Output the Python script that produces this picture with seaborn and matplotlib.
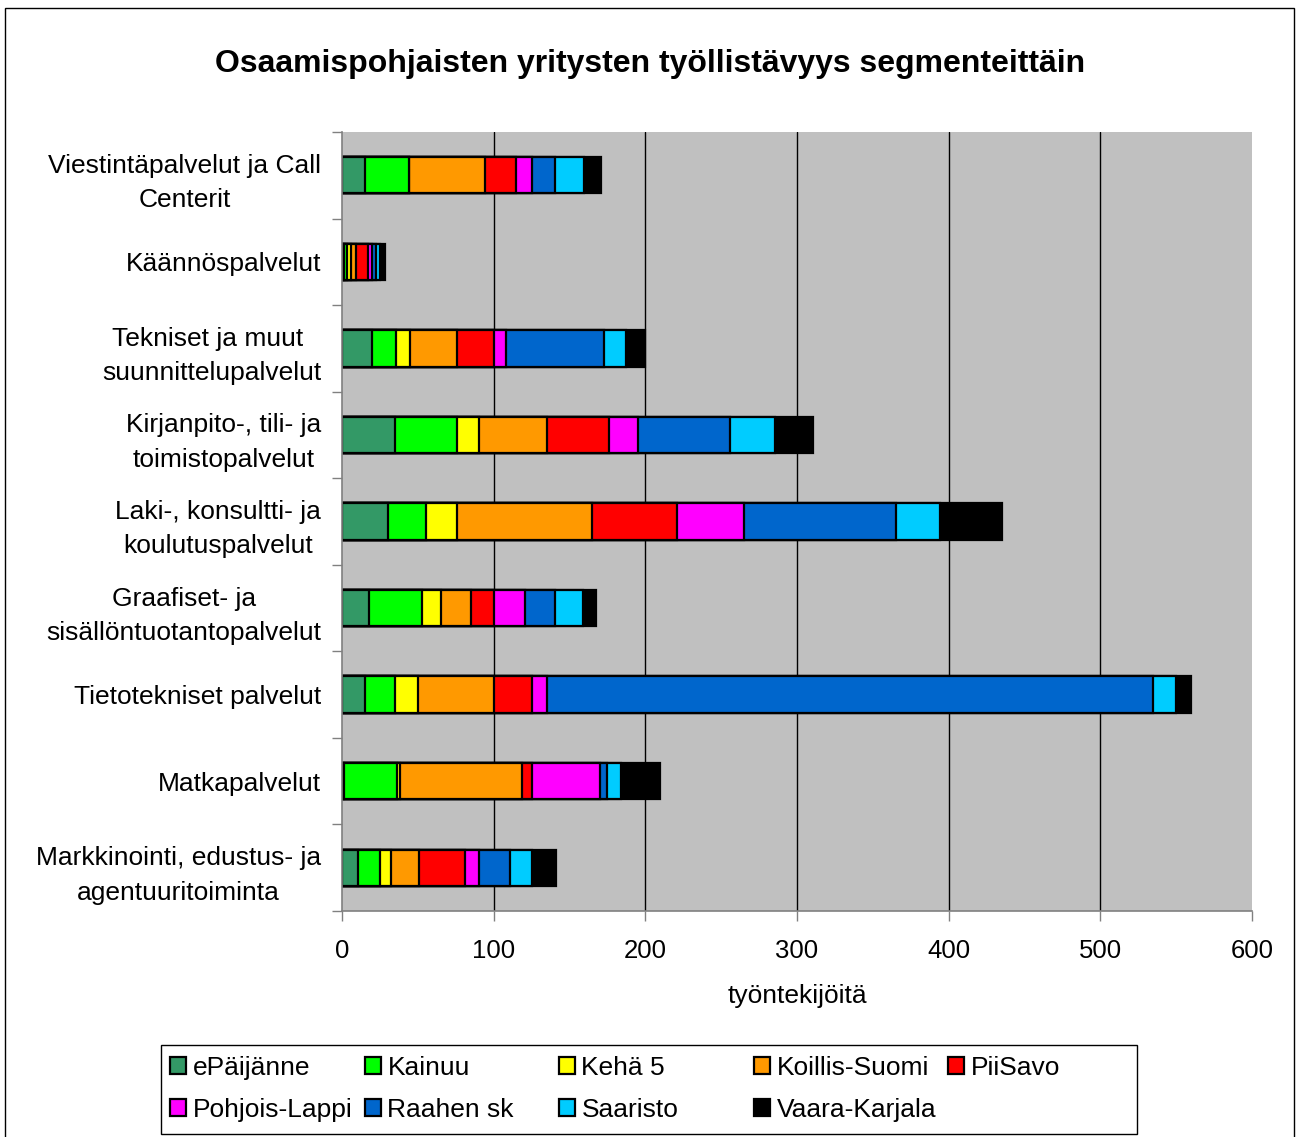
"""Osaamispohjaisten yritysten työllistävyys segmenteittäin — stacked horizontal bars."""

import matplotlib

matplotlib.use("Agg")
import matplotlib.pyplot as plt
import numpy as np
import pandas as pd
import seaborn as sns
from matplotlib.patches import Rectangle

CATEGORIES = [
    "Viestintäpalvelut ja Call\nCenterit",
    "Käännöspalvelut",
    "Tekniset ja muut \nsuunnittelupalvelut",
    "Kirjanpito-, tili- ja\ntoimistopalvelut",
    "Laki-, konsultti- ja\nkoulutuspalvelut",
    "Graafiset- ja\nsisällöntuotantopalvelut",
    "Tietotekniset palvelut",
    "Matkapalvelut",
    "Markkinointi, edustus- ja\nagentuuritoiminta",
]
REGIONS = [
    "ePäijänne", "Kainuu", "Kehä 5", "Koillis-Suomi", "PiiSavo",
    "Pohjois-Lappi", "Raahen sk", "Saaristo", "Vaara-Karjala",
]
# employees per region, same order as CATEGORIES
EPAIJANNE = [15, 1, 20, 35, 30, 18, 15, 1, 10.5]
KAINUU = [29, 2.5, 15.5, 40.5, 25.5, 35, 20, 35, 14.5]
KEHA5 = [0, 2.5, 9, 15, 20.5, 12, 15, 2.5, 7]
KOILLIS = [50, 3, 31, 44.5, 89, 20, 50, 80, 19]
PIISAVO = [20.5, 8, 24.5, 41, 56, 15, 25.5, 6.5, 30]
POHJOIS_LAPPI = [11, 3, 8, 19, 44, 20.5, 9.5, 45, 9.5]
RAAHE = [15, 2.5, 65, 61, 100, 20, 400, 5, 20]
SAARISTO = [19, 2.5, 14, 29.5, 29.5, 18.5, 15, 9, 14.5]
VAARA = [11.5, 3.5, 13, 25, 41, 8.5, 9.5, 25.5, 16]

COLORS = [
    "#339966", "#00FF00", "#FFFF00", "#FF9900", "#FF0000",
    "#FF00FF", "#0066CC", "#00CCFF", "#000000",
]

series = [EPAIJANNE, KAINUU, KEHA5, KOILLIS, PIISAVO,
          POHJOIS_LAPPI, RAAHE, SAARISTO, VAARA]
df = pd.DataFrame(dict(zip(REGIONS, series)), index=CATEGORIES)
cum = df.cumsum(axis=1)

sns.set_theme(style="white")
plt.rcParams["font.family"] = ["Liberation Sans", "DejaVu Sans"]
plt.rcParams["text.color"] = "black"
plt.rcParams["axes.labelcolor"] = "black"
plt.rcParams["xtick.color"] = "black"
plt.rcParams["ytick.color"] = "black"

W, H = 1301, 1137
fig = plt.figure(figsize=(W / 100, H / 100), dpi=100)
ax = fig.add_axes([0.2629, 0.1988, 0.6994, 0.6851])
ax.set_facecolor("#C0C0C0")

# draw cumulative totals from the last region back so earlier ones sit on top
for region, color in reversed(list(zip(REGIONS, COLORS))):
    sns.barplot(
        x=cum[region].values,
        y=CATEGORIES,
        orient="h",
        color=color,
        saturation=1,
        edgecolor="black",
        linewidth=1.6,
        width=0.42,
        ax=ax,
        label=region,
    )
handles, labels = ax.get_legend_handles_labels()
if ax.get_legend() is not None:
    ax.get_legend().remove()

ax.set_xlim(0, 600)
ax.set_ylim(len(CATEGORIES) - 0.5, -0.5)
ax.set_xticks(np.arange(0, 601, 100))
ax.tick_params(axis="x", labelsize=18.5, length=7, width=1, color="#808080",
               direction="out", pad=13, bottom=True)
ax.tick_params(axis="y", which="major", length=0, labelsize=19, pad=15)
ax.set_yticks(np.arange(-0.5, len(CATEGORIES), 1.0), minor=True)
ax.tick_params(axis="y", which="minor", length=7, width=1, color="#808080",
               direction="out", left=True)
for lab in ax.get_yticklabels():
    lab.set_multialignment("center")
    lab.set_linespacing(1.55)

for v in range(100, 600, 100):
    ax.axvline(v, color="black", linewidth=1, zorder=0)

for side in ("top", "right"):
    ax.spines[side].set_visible(False)
for side in ("left", "bottom"):
    ax.spines[side].set_color("#808080")
    ax.spines[side].set_linewidth(1.2)

ax.set_xlabel("työntekijöitä", fontsize=19, labelpad=15)
ax.set_ylabel("")

fig.suptitle(
    "Osaamispohjaisten yritysten työllistävyys segmenteittäin",
    fontsize=23, fontweight="bold", y=0.957,
)

# legend: 5 equal-width columns read row by row, one box around them
by_label = dict(zip(labels, handles))
col_x = [170, 365, 559, 754, 948]
for k, x0 in enumerate(col_x):
    names = [REGIONS[i] for i in (k, k + 5) if i < len(REGIONS)]
    fig.legend(
        [by_label[n] for n in names], names,
        loc="upper left", bbox_to_anchor=(x0 / W, 1 - 1056 / H),
        fontsize=19, frameon=False, borderpad=0, borderaxespad=0,
        handlelength=0.6, handleheight=0.6, handletextpad=0.25,
        labelspacing=0.68,
    )
fig.patches.append(Rectangle((161 / W, 1 - 1134 / H), 976 / W, 89 / H,
                             transform=fig.transFigure, fill=False,
                             edgecolor="black", linewidth=1))

fig.patches.append(Rectangle((5 / W, -0.01), 1289 / W, 1.01 - 8 / H,
                             transform=fig.transFigure, fill=False,
                             edgecolor="black", linewidth=1))

fig.savefig("out.png", dpi=100)
plt.close(fig)
